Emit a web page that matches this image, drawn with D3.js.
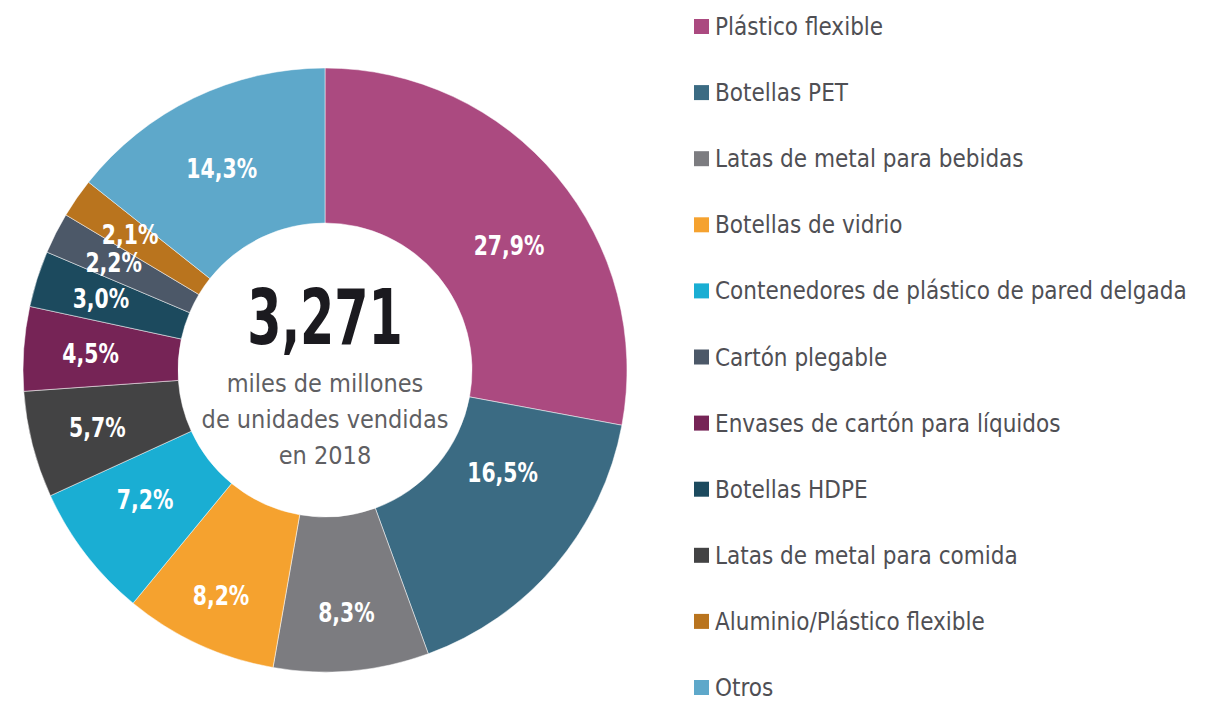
<!DOCTYPE html>
<html>
<head>
<meta charset="utf-8">
<script src="https://cdn.jsdelivr.net/npm/d3@7"></script>
<style>
  html, body { margin: 0; padding: 0; background: #ffffff; }
  svg { display: block; }
</style>
</head>
<body>
<svg id="chart" width="1207" height="708"></svg>
<script>
// ---- data (clockwise from 12 o'clock) ----
const sliceCategories = [
  "Plástico flexible", "Botellas PET", "Latas de metal para bebidas", "Botellas de vidrio",
  "Contenedores de plástico de pared delgada", "Latas de metal para comida",
  "Envases de cartón para líquidos", "Botellas HDPE", "Cartón plegable",
  "Aluminio/Plástico flexible", "Otros"
];
const sliceValues = [27.9, 16.5, 8.3, 8.2, 7.2, 5.7, 4.5, 3.0, 2.2, 2.1, 14.3];
const sliceColors = [
  "#ab4a80", "#3b6b83", "#7c7c80", "#f5a22f", "#1aaed3", "#434344",
  "#762456", "#1c4a5e", "#4c5868", "#b9741e", "#5ea8ca"
];
const legendCategories = [
  "Plástico flexible", "Botellas PET", "Latas de metal para bebidas", "Botellas de vidrio",
  "Contenedores de plástico de pared delgada", "Cartón plegable",
  "Envases de cartón para líquidos", "Botellas HDPE", "Latas de metal para comida",
  "Aluminio/Plástico flexible", "Otros"
];
const totalValue = "3,271";
const centerLines = ["miles de millones", "de unidades vendidas", "en 2018"];

// ---- layout ----
const svg = d3.select("#chart");
const cx = 325, cy = 370, outerR = 302, innerR = 147;
const NARROW = "'Liberation Sans Narrow', 'DejaVu Sans Condensed', 'Roboto', sans-serif";

const color = d3.scaleOrdinal().domain(sliceCategories).range(sliceColors);
const fmt = v => d3.format(".1f")(v).replace(".", ",") + "%";

const pie = d3.pie().sort(null).value(d => d.value);
const arcs = pie(sliceCategories.map((c, i) => ({ cat: c, value: sliceValues[i] })));
const arc = d3.arc().innerRadius(innerR).outerRadius(outerR);

const g = svg.append("g").attr("transform", `translate(${cx},${cy})`);
g.selectAll("path.slice").data(arcs).join("path")
  .attr("class", "slice")
  .attr("d", arc)
  .attr("fill", d => color(d.data.cat))
  .attr("stroke", "#ffffff")
  .attr("stroke-width", 0.5);

// label placement: centroid on a ring, small nudges [angle rad, radius px]
const labelR = 235;
const nudge = {
  "Plástico flexible": [0.10, -13],
  "Botellas PET": [-0.18, -30],
  "Latas de metal para bebidas": [0, 9],
  "Botellas de vidrio": [0, 14],
  "Contenedores de plástico de pared delgada": [0.03, -13],
  "Cartón plegable": [0, 2],
  "Aluminio/Plástico flexible": [0, 2],
  "Otros": [-0.025, -9]
};
g.selectAll("text.pct").data(arcs).join("text")
  .attr("class", "pct")
  .attr("transform", d => {
    const n = nudge[d.data.cat] || [0, 0];
    const a = (d.startAngle + d.endAngle) / 2 + n[0];
    const r = labelR + n[1];
    return `translate(${r * Math.sin(a)},${-r * Math.cos(a)}) scale(0.84,1)`;
  })
  .attr("text-anchor", "middle")
  .attr("dominant-baseline", "central")
  .attr("font-family", NARROW)
  .attr("font-weight", "bold")
  .attr("font-size", 27)
  .attr("fill", "#ffffff")
  .text(d => fmt(d.data.value));

// center text
g.append("text")
  .attr("transform", "translate(0,-26) scale(0.72,1)")
  .attr("text-anchor", "middle")
  .attr("font-family", NARROW)
  .attr("font-weight", "bold")
  .attr("font-size", 76)
  .attr("fill", "#1b1a1f")
  .text(totalValue);
g.selectAll("text.sub").data(centerLines).join("text")
  .attr("class", "sub")
  .attr("x", 0)
  .attr("y", (d, i) => 22 + i * 36)
  .attr("text-anchor", "middle")
  .attr("font-family", NARROW)
  .attr("font-size", 25)
  .attr("fill", "#5f5f63")
  .text(d => d);

// legend
const ly = d3.scalePoint().domain(legendCategories).range([27, 688]);
const lg = svg.append("g");
const items = lg.selectAll("g.item").data(legendCategories).join("g")
  .attr("class", "item")
  .attr("transform", d => `translate(694,${ly(d)})`);
items.append("rect")
  .attr("x", 0).attr("y", -8).attr("width", 15).attr("height", 15)
  .attr("fill", d => color(d));
items.append("text")
  .attr("x", 21).attr("y", 0)
  .attr("dominant-baseline", "central")
  .attr("font-family", NARROW)
  .attr("font-size", 24)
  .attr("fill", "#4f4f54")
  .text(d => d);
</script>
</body>
</html>
